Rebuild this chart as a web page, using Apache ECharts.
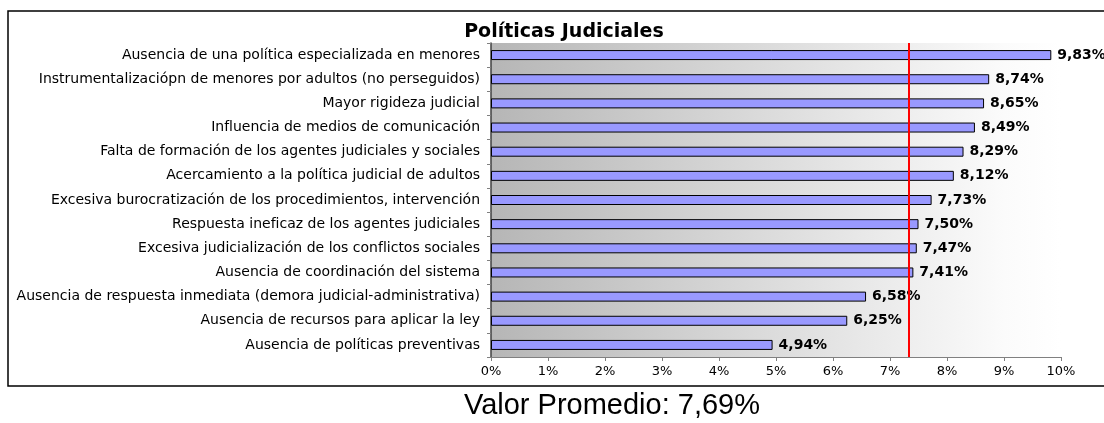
<!DOCTYPE html>
<html lang="es">
<head>
<meta charset="UTF-8">
<title>Políticas Judiciales</title>
<script src="https://cdn.jsdelivr.net/npm/echarts@6/dist/echarts.min.js"></script>
<style>
  html, body { margin: 0; padding: 0; background: #fff; }
  #main { width: 1104px; height: 423px; }
</style>
</head>
<body>
<div id="main"></div>
<script>
// categorías (de arriba a abajo)
var categories = [
  'Ausencia de una política especializada en menores',
  'Instrumentalizaciópn de menores por adultos (no perseguidos)',
  'Mayor rigideza judicial',
  'Influencia de medios de comunicación',
  'Falta de formación de los agentes judiciales y sociales',
  'Acercamiento a la política judicial de adultos',
  'Excesiva burocratización de los procedimientos, intervención',
  'Respuesta ineficaz de los agentes judiciales',
  'Excesiva judicialización de los conflictos sociales',
  'Ausencia de coordinación del sistema',
  'Ausencia de respuesta inmediata (demora judicial-administrativa)',
  'Ausencia de recursos para aplicar la ley',
  'Ausencia de políticas preventivas'
];
var values = [9.83, 8.74, 8.65, 8.49, 8.29, 8.12, 7.73, 7.50, 7.47, 7.41, 6.58, 6.25, 4.94];
var avgLine = 7.33;       // posición de la línea roja
var avgText = '7,69%';    // valor mostrado abajo
var chartTitle = 'Políticas Judiciales';

var font = '"Liberation Sans", Arial, sans-serif';
var wide = '"DejaVu Sans", sans-serif';

function pct(v) {
  return v.toFixed(2).replace('.', ',') + '%';
}

var myChart = echarts.init(document.getElementById('main'));

var option = {
  animation: false,
  textStyle: { fontFamily: wide },
  grid: {
    left: 491,
    right: 43,
    top: 43,
    bottom: 66,
    show: true,
    borderWidth: 0,
    backgroundColor: {
      type: 'linear', x: 0, y: 0, x2: 1, y2: 0,
      colorStops: [
        { offset: 0, color: '#b6b6b6' },
        { offset: 0.9, color: '#fbfbfb' },
        { offset: 1, color: '#ffffff' }
      ]
    }
  },
  xAxis: {
    type: 'value',
    min: 0,
    max: 10,
    interval: 1,
    axisLine: { show: true, lineStyle: { color: '#808080', width: 1 } },
    axisTick: { show: true, length: 4, lineStyle: { color: '#808080' } },
    splitLine: { show: false },
    axisLabel: {
      formatter: '{value}%',
      color: '#000',
      fontSize: 13,
      fontFamily: wide,
      margin: 8
    }
  },
  yAxis: {
    type: 'category',
    data: categories,
    inverse: true,
    axisLine: { show: true, lineStyle: { color: '#404040', width: 1.5 } },
    axisTick: { show: true, length: 4, lineStyle: { color: '#808080' } },
    axisLabel: {
      color: '#000',
      fontSize: 14,
      fontFamily: wide,
      margin: 11
    }
  },
  series: [
    {
      type: 'bar',
      data: values,
      barWidth: 10,
      itemStyle: { color: '#9999ff', borderColor: '#000', borderWidth: 1 },
      label: {
        show: true,
        position: 'right',
        distance: 6,
        formatter: function (p) { return pct(p.value); },
        color: '#000',
        fontSize: 14,
        fontWeight: 'bold',
        fontFamily: wide
      },
      markLine: {
        silent: true,
        symbol: 'none',
        label: { show: false },
        lineStyle: { color: '#ff0000', width: 2, type: 'solid' },
        data: [{ xAxis: avgLine }]
      }
    }
  ],
  graphic: [
    {
      type: 'rect',
      shape: { x: 8, y: 11, width: 1120, height: 375 },
      style: { fill: 'none', stroke: '#000', lineWidth: 1.5 },
      silent: true,
      z: -1
    },
    {
      type: 'text',
      x: 564,
      y: 32,
      style: {
        text: chartTitle,
        fontFamily: wide,
        fontSize: 19,
        fontWeight: 'bold',
        fill: '#000',
        textAlign: 'center',
        textVerticalAlign: 'middle'
      }
    },
    {
      type: 'text',
      x: 612,
      y: 406,
      style: {
        text: 'Valor Promedio: ' + avgText,
        fontFamily: font,
        fontSize: 29,
        fill: '#000',
        textAlign: 'center',
        textVerticalAlign: 'middle'
      }
    }
  ]
};

myChart.setOption(option);
</script>
</body>
</html>
